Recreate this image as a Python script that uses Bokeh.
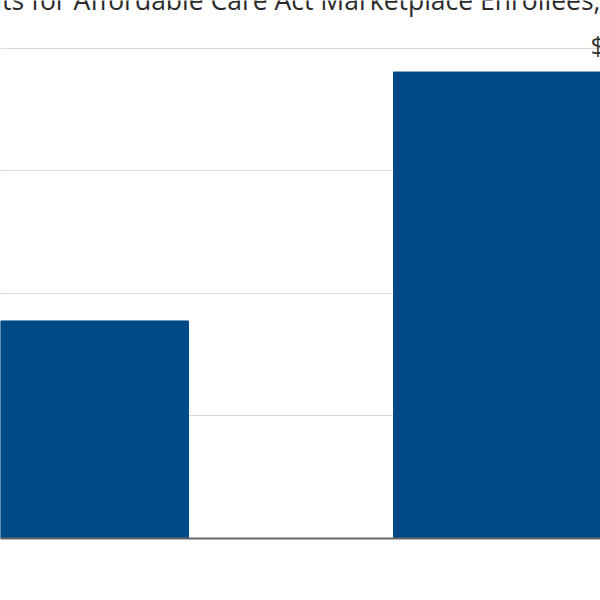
from bokeh.plotting import figure
from bokeh.models import Range1d, Grid, FixedTicker, Span, ColumnDataSource
from bokeh.core.properties import value
from bokeh.embed import file_html
from bokeh.resources import INLINE

title_text = "Average Annual Premium Payments for Affordable Care Act Marketplace Enrollees, 2025 vs. 2026"
years = ["2025", "2026"]
premiums = [888, 1904]
value_labels = ["$888", "$1,904"]
y_ticks = [500, 1000, 1500, 2000]

BAR = "#004b87"
FONT = "Open Sans"
X0, X1 = 0.0728, 0.9551

src = ColumnDataSource(dict(
    x=list(range(len(years))),
    year=years,
    premium=premiums,
    label=value_labels,
))

p = figure(width=600, height=600, output_backend="svg", toolbar_location=None,
           x_axis_location=None, y_axis_location=None, min_border=0,
           x_range=Range1d(X0, X1), y_range=Range1d(-253.06, 2195.9))
p.outline_line_color = None
p.background_fill_color = "white"
p.border_fill_color = "white"
p.xgrid.visible = False
p.ygrid.visible = False

g = Grid(dimension=1, ticker=FixedTicker(ticks=y_ticks), grid_line_color="#d9d9d9", grid_line_width=1)
p.add_layout(g)

p.vbar(x="x", top="premium", bottom=0, width=0.6985, source=src, color=BAR, line_color=BAR)

p.add_layout(Span(location=0, dimension="width", line_color="#666666", line_width=2))

p.text(x="x", y="premium", text="label", source=src, text_align="center",
       text_baseline="alphabetic", y_offset=-27, text_font=value(FONT),
       text_font_size="26px", text_color="#333333")

p.text(x=[X0], y=[2197.0], text=[title_text], text_align="left", text_baseline="alphabetic",
       x_offset=-419, text_font=value(FONT), text_font_size="26.5px", text_color="#2b2b2b")

open("out.html", "w").write(file_html(p, INLINE))
